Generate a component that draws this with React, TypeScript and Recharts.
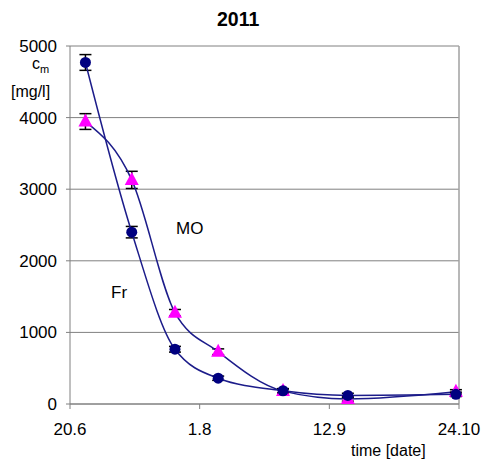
import React from "react";
import {
  LineChart,
  Line,
  XAxis,
  YAxis,
  CartesianGrid,
  ErrorBar,
  ReferenceLine,
} from "recharts";

// days since 20.6
const days = [5, 20, 34, 48, 69, 90, 125];
const frValues = [4770, 2400, 765, 360, 185, 120, 135];
const frErrors = [110, 80, 40, 30, 30, 30, 30];
const moValues = [3945, 3130, 1275, 730, 180, 70, 170];
const moErrors = [110, 120, 45, 40, 30, 30, 30];

const xTicks = [0, 42, 84, 126];
const xTickLabels = ["20.6", "1.8", "12.9", "24.10"];
const yTicks = [0, 1000, 2000, 3000, 4000, 5000];

const data = days.map((d, i) => ({
  day: d,
  fr: frValues[i],
  frErr: frErrors[i],
  mo: moValues[i],
  moErr: moErrors[i],
}));

const NAVY = "#1c1c8a";
const FONT = "Liberation Sans, Arial, sans-serif";

const Triangle = (props: any) => {
  const { cx, cy, index } = props;
  if (cx == null || cy == null) return null;
  return (
    <polygon
      key={`t-${index}`}
      points={`${cx},${cy - 8} ${cx - 7},${cy + 5} ${cx + 7},${cy + 5}`}
      fill="#ff00ff"
    />
  );
};

const Circle = (props: any) => {
  const { cx, cy, index } = props;
  if (cx == null || cy == null) return null;
  return <circle key={`c-${index}`} cx={cx} cy={cy} r={5.5} fill="#000080" />;
};

export default function App() {
  return (
    <div
      style={{
        position: "absolute",
        left: 0,
        top: 0,
        width: 484,
        height: 461,
        background: "#fff",
        fontFamily: FONT,
        color: "#000",
      }}
    >
      <LineChart
        width={484}
        height={461}
        data={data}
        margin={{ top: 46, right: 25, left: 0, bottom: 27 }}
      >
        <CartesianGrid vertical={false} stroke="#808080" strokeWidth={1} />
        <XAxis
          dataKey="day"
          type="number"
          domain={[0, 126]}
          ticks={xTicks}
          tickFormatter={(v: number) => xTickLabels[xTicks.indexOf(v)]}
          stroke="#808080"
          tickSize={5}
          tickMargin={14}
          height={30}
          tick={{ fill: "#000", fontSize: 17, fontFamily: FONT }}
        />
        <YAxis
          type="number"
          domain={[0, 5000]}
          ticks={yTicks}
          stroke="#808080"
          tickSize={4}
          tickMargin={9}
          width={70}
          tick={{ fill: "#000", fontSize: 17, fontFamily: FONT }}
        />
        <ReferenceLine x={126} stroke="#a0a0a0" strokeWidth={1.5} />
        <Line
          dataKey="mo"
          type="monotone"
          stroke={NAVY}
          strokeWidth={1.5}
          dot={Triangle}
          activeDot={false}
          isAnimationActive={false}
        >
          <ErrorBar
            dataKey="moErr"
            direction="y"
            width={6}
            stroke="#000"
            strokeWidth={1.5}
            isAnimationActive={false}
          />
        </Line>
        <Line
          dataKey="fr"
          type="monotone"
          stroke={NAVY}
          strokeWidth={1.5}
          dot={Circle}
          activeDot={false}
          isAnimationActive={false}
        >
          <ErrorBar
            dataKey="frErr"
            direction="y"
            width={6}
            stroke="#000"
            strokeWidth={1.5}
            isAnimationActive={false}
          />
        </Line>
      </LineChart>

      <div style={{ position: "absolute", left: 217, top: 8, fontSize: 19.5, fontWeight: "bold" }}>
        2011
      </div>
      <div style={{ position: "absolute", left: 32, top: 56, fontSize: 16, lineHeight: "16px" }}>
        c<sub style={{ fontSize: 11 }}>m</sub>
      </div>
      <div style={{ position: "absolute", left: 11, top: 83, fontSize: 16 }}>[mg/l]</div>
      <div style={{ position: "absolute", left: 176, top: 219, fontSize: 17 }}>MO</div>
      <div style={{ position: "absolute", left: 111, top: 283, fontSize: 17 }}>Fr</div>
      <div style={{ position: "absolute", left: 351, top: 442, fontSize: 16 }}>time [date]</div>
    </div>
  );
}
